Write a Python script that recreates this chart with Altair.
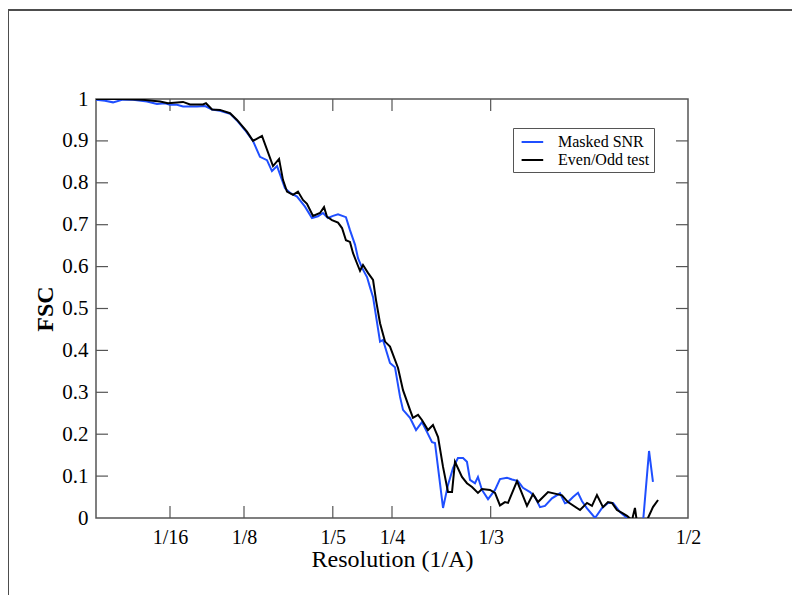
import altair as alt
import pandas as pd

# ---- data ----
series_names = ["Masked SNR", "Even/Odd test"]
series_colors = ["#1f4fff", "#000000"]

freq_masked = [0.0, 0.0076, 0.0144, 0.0220, 0.0313, 0.0431, 0.0515, 0.0583, 0.0625, 0.0684,
               0.0735, 0.0853, 0.0921, 0.0980, 0.1047, 0.1132, 0.1199, 0.1258, 0.1326, 0.1385,
               0.1444, 0.1486, 0.1529, 0.1571, 0.1596, 0.1639, 0.1698, 0.1765, 0.1824, 0.1875,
               0.1917, 0.1959, 0.2002, 0.2044, 0.2111, 0.2145, 0.2188, 0.2213, 0.2247, 0.2289,
               0.2314, 0.2340, 0.2399, 0.2424, 0.2483, 0.2525, 0.2568, 0.2593, 0.2652, 0.2703,
               0.2753, 0.2796, 0.2838, 0.2863, 0.2931, 0.2973, 0.3015, 0.3057, 0.3100, 0.3133,
               0.3159, 0.3201, 0.3226, 0.3260, 0.3311, 0.3370, 0.3412, 0.3471, 0.3514, 0.3564,
               0.3606, 0.3666, 0.3708, 0.3750, 0.3792, 0.3851, 0.3919, 0.3961, 0.3986, 0.4029,
               0.4071, 0.4105, 0.4147, 0.4215, 0.4274, 0.4324, 0.4367, 0.4426, 0.4485, 0.4552,
               0.4620, 0.4671, 0.4704]
fsc_masked = [0.998, 0.996, 0.992, 0.998, 0.998, 0.994, 0.988, 0.990, 0.986, 0.986,
              0.982, 0.982, 0.983, 0.975, 0.972, 0.965, 0.946, 0.926, 0.900, 0.862,
              0.854, 0.828, 0.840, 0.807, 0.787, 0.776, 0.767, 0.743, 0.716, 0.720,
              0.728, 0.716, 0.721, 0.725, 0.718, 0.687, 0.652, 0.620, 0.597, 0.575,
              0.551, 0.527, 0.421, 0.425, 0.370, 0.360, 0.289, 0.258, 0.239, 0.210,
              0.229, 0.205, 0.181, 0.179, 0.024, 0.079, 0.119, 0.143, 0.143, 0.134,
              0.091, 0.083, 0.098, 0.067, 0.045, 0.067, 0.093, 0.096, 0.092, 0.088,
              0.072, 0.062, 0.050, 0.026, 0.029, 0.047, 0.059, 0.035, 0.038, 0.050,
              0.060, 0.040, 0.023, 0.000, 0.024, 0.036, 0.036, 0.014, 0.000, -0.020,
              -0.010, 0.160, 0.086]

freq_evenodd = [0.0, 0.0203, 0.0397, 0.0541, 0.0608, 0.0735, 0.0794, 0.0904, 0.0929, 0.0980,
                0.1047, 0.1132, 0.1191, 0.1275, 0.1326, 0.1402, 0.1495, 0.1546, 0.1579, 0.1613,
                0.1664, 0.1706, 0.1748, 0.1782, 0.1833, 0.1892, 0.1926, 0.1951, 0.1993, 0.2044,
                0.2078, 0.2111, 0.2145, 0.2171, 0.2204, 0.2230, 0.2255, 0.2297, 0.2340, 0.2365,
                0.2399, 0.2441, 0.2483, 0.2551, 0.2593, 0.2652, 0.2677, 0.2720, 0.2753, 0.2804,
                0.2846, 0.2889, 0.2931, 0.2973, 0.3007, 0.3032, 0.3091, 0.3133, 0.3176, 0.3226,
                0.3260, 0.3328, 0.3370, 0.3412, 0.3454, 0.3480, 0.3556, 0.3640, 0.3691, 0.3733,
                0.3818, 0.3894, 0.3936, 0.3986, 0.4088, 0.4147, 0.4189, 0.4231, 0.4282, 0.4324,
                0.4358, 0.4400, 0.4443, 0.4485, 0.4527, 0.4552, 0.4569, 0.4620, 0.4662, 0.4704,
                0.4747]
fsc_evenodd = [1.000, 1.000, 0.998, 0.994, 0.990, 0.993, 0.987, 0.987, 0.990, 0.975,
               0.974, 0.966, 0.950, 0.922, 0.900, 0.912, 0.840, 0.857, 0.807, 0.779,
               0.771, 0.779, 0.759, 0.750, 0.721, 0.728, 0.742, 0.719, 0.711, 0.705,
               0.692, 0.663, 0.659, 0.632, 0.608, 0.590, 0.604, 0.585, 0.568, 0.520,
               0.465, 0.421, 0.409, 0.358, 0.305, 0.258, 0.239, 0.246, 0.234, 0.210,
               0.222, 0.193, 0.122, 0.062, 0.062, 0.134, 0.098, 0.083, 0.074, 0.060,
               0.069, 0.067, 0.060, 0.030, 0.038, 0.036, 0.088, 0.029, 0.057, 0.038,
               0.062, 0.057, 0.054, 0.038, 0.019, 0.036, 0.029, 0.055, 0.026, 0.038,
               0.036, 0.019, 0.012, 0.005, -0.005, 0.024, -0.010, -0.020, 0.000, 0.026,
               0.043]

x_tick_values = [1 / 16, 1 / 8, 1 / 5, 1 / 4, 1 / 3, 1 / 2]
x_tick_labels = ["1/16", "1/8", "1/5", "1/4", "1/3", "1/2"]
y_tick_values = [0, 0.1, 0.2, 0.3, 0.4, 0.5, 0.6, 0.7, 0.8, 0.9, 1.0]

# ---- build tables ----
df = pd.concat([
    pd.DataFrame({"f": freq_masked, "fsc": fsc_masked, "series": series_names[0]}),
    pd.DataFrame({"f": freq_evenodd, "fsc": fsc_evenodd, "series": series_names[1]}),
], ignore_index=True)

inner_x = pd.DataFrame({"f": x_tick_values[:-1]})
inner_y = pd.DataFrame({"fsc": y_tick_values[1:-1]})
one = pd.DataFrame({"a": [0]})

W, H = 592, 419
PAD = {"left": 88, "top": 91, "right": 104, "bottom": 77}
FONT = "Liberation Serif"
AXC = "#555555"
TICK = 12

label_expr = ""
for v, lab in zip(x_tick_values, x_tick_labels):
    label_expr += f"abs(datum.value - {v}) < 1e-6 ? '{lab}' : "
label_expr += "''"

xscale = alt.Scale(domain=[0, 0.5], nice=False, zero=False)
yscale = alt.Scale(domain=[0, 1], nice=False, zero=False)

lines = alt.Chart(df).mark_line(clip=True, strokeWidth=2).encode(
    x=alt.X("f:Q", scale=xscale,
            axis=alt.Axis(values=x_tick_values, labelExpr=label_expr, title="Resolution (1/A)",
                          labelFlush=False, labelOverlap=False, labelPadding=9,
                          titleFontSize=24, titleFontWeight="normal", titlePadding=0)),
    y=alt.Y("fsc:Q", scale=yscale,
            axis=alt.Axis(values=y_tick_values, format="~g", title="FSC",
                          labelPadding=8, labelOverlap=False, labelFlush=False,
                          labelFontSize=21,
                          titleFontSize=24, titleFontWeight="bold", titlePadding=4)),
    color=alt.Color("series:N",
                    scale=alt.Scale(domain=series_names, range=series_colors),
                    legend=alt.Legend(title=None, orient="none", legendX=417, legendY=29,
                                      symbolType="M-0.6,0H1.8", symbolSize=324,
                                      symbolStrokeWidth=2,
                                      labelFont=FONT, labelFontSize=16, labelOffset=21,
                                      strokeColor=AXC, fillColor="white", padding=4,
                                      rowPadding=0, labelColor="black")),
)

tb = alt.Chart(inner_x).mark_rule(color=AXC, strokeWidth=1.2).encode(
    x=alt.X("f:Q", scale=xscale), y=alt.value(H), y2=alt.value(H - TICK))
tt = alt.Chart(inner_x).mark_rule(color=AXC, strokeWidth=1.2).encode(
    x=alt.X("f:Q", scale=xscale), y=alt.value(0), y2=alt.value(TICK))
tl = alt.Chart(inner_y).mark_rule(color=AXC, strokeWidth=1.2).encode(
    y=alt.Y("fsc:Q", scale=yscale), x=alt.value(0), x2=alt.value(TICK))
tr = alt.Chart(inner_y).mark_rule(color=AXC, strokeWidth=1.2).encode(
    y=alt.Y("fsc:Q", scale=yscale), x=alt.value(W - TICK), x2=alt.value(W))

frame_top = alt.Chart(one).mark_rule(color="#4d4d4d", strokeWidth=2).encode(
    x=alt.value(-88), x2=alt.value(W + PAD["right"]), y=alt.value(-89))
frame_left = alt.Chart(one).mark_rule(color="#4d4d4d", strokeWidth=2).encode(
    x=alt.value(-88), y=alt.value(-89), y2=alt.value(H + PAD["bottom"]))

chart = alt.layer(tb, tt, tl, tr, lines, frame_top, frame_left).properties(
    width=W, height=H,
    autosize=alt.AutoSizeParams(type="none"),
    padding=PAD,
    background="white",
).configure_view(
    stroke=AXC, strokeWidth=1.5
).configure_axis(
    domain=False, ticks=False, grid=False,
    labelFont=FONT, labelFontSize=20, labelColor="black",
    titleFont=FONT, titleColor="black",
)

chart.save("out.html", embed_options={"renderer": "svg", "actions": False})
